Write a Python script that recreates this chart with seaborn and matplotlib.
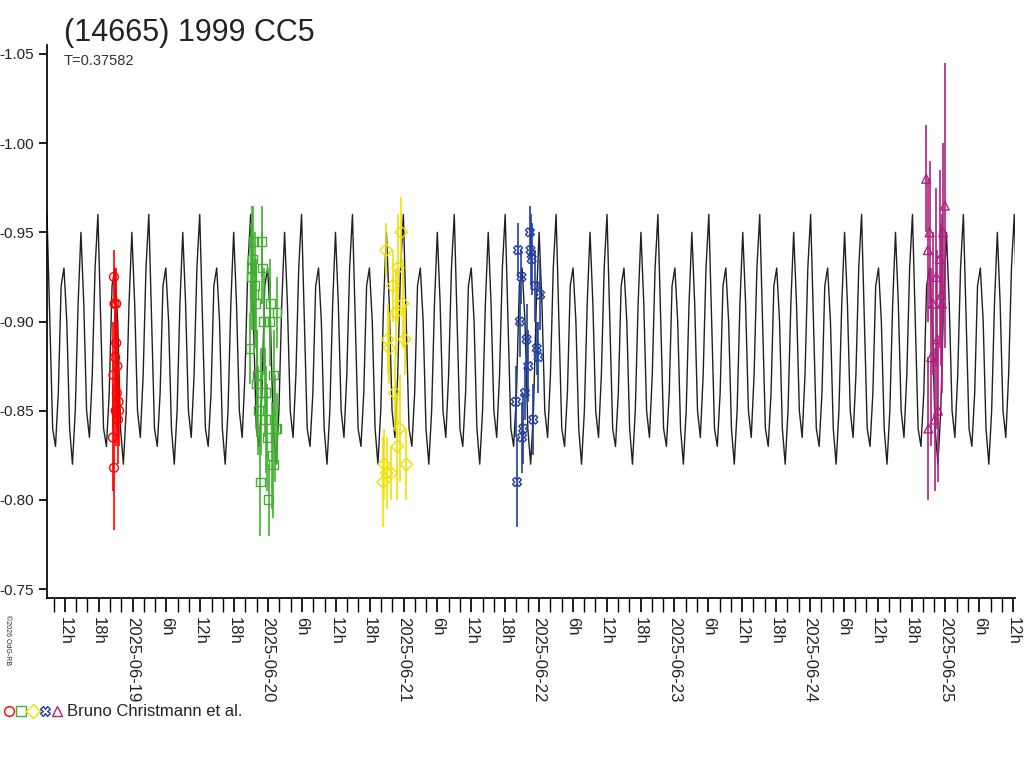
import numpy as np
import pandas as pd
import matplotlib
matplotlib.use("Agg")
import matplotlib.pyplot as plt
import matplotlib.dates as mdates
import seaborn as sns

PERIOD = 0.37582  # days
T0 = pd.Timestamp("2025-06-19 00:00")

# one period of the model light curve (magnitudes)
model_shape = [-0.96, -0.90, -0.84, -0.83, -0.86, -0.92, -0.93, -0.90,
               -0.84, -0.82, -0.85, -0.91, -0.95, -0.91, -0.85, -0.835,
               -0.87, -0.93, -0.96]

# observations: hours from 2025-06-19 00:00, magnitude, error
red_h = [-3.3, -3.2, -2.9, -2.7, -3.4, -3.1, -2.8, -2.5, -3.0, -2.6, -3.5, -3.3, -2.4, -2.9]
red_m = [-0.925, -0.91, -0.91, -0.875, -0.87, -0.88, -0.86, -0.855, -0.85, -0.845, -0.835, -0.818, -0.85, -0.888]
red_e = [0.015, 0.02, 0.02, 0.025, 0.03, 0.025, 0.02, 0.02, 0.02, 0.025, 0.03, 0.035, 0.02, 0.03]

green_h = [20.8, 21.0, 21.2, 21.4, 21.6, 21.8, 22.0, 22.3, 22.6, 22.9, 23.2, 23.5, 23.8, 24.1, 24.4,
           24.7, 25.0, 25.3, 25.6, 21.1, 21.5, 22.1, 22.7, 23.0, 23.6, 24.3, 24.9, 25.5]
green_m = [-0.885, -0.93, -0.935, -0.945, -0.92, -0.91, -0.865, -0.85, -0.81, -0.945, -0.90, -0.86,
           -0.835, -0.80, -0.91, -0.825, -0.87, -0.84, -0.905, -0.925, -0.915, -0.87, -0.855, -0.93,
           -0.845, -0.90, -0.82, -0.84]
green_e = [0.02, 0.025, 0.03, 0.02, 0.03, 0.025, 0.03, 0.025, 0.03, 0.02, 0.03, 0.025, 0.03, 0.02,
           0.025, 0.03, 0.025, 0.03, 0.02, 0.03, 0.02, 0.025, 0.03, 0.02, 0.03, 0.025, 0.03, 0.02]

yellow_h = [44.4, 44.6, 44.9, 45.2, 45.5, 45.8, 46.1, 46.4, 46.7, 47.0, 47.3, 47.6, 47.9, 48.2, 48.5, 45.0, 46.9]
yellow_m = [-0.81, -0.82, -0.94, -0.89, -0.885, -0.815, -0.92, -0.86, -0.905, -0.93, -0.84, -0.95, -0.91,
            -0.89, -0.82, -0.815, -0.83]
yellow_e = [0.025, 0.02, 0.015, 0.02, 0.02, 0.015, 0.02, 0.02, 0.025, 0.03, 0.03, 0.02, 0.025, 0.02, 0.02, 0.02, 0.03]

blue_h = [67.9, 68.1, 68.3, 68.6, 68.9, 69.2, 69.5, 69.8, 70.1, 70.4, 70.7, 71.0, 71.3, 71.6, 71.9, 72.2, 69.0, 70.5]
blue_m = [-0.855, -0.81, -0.94, -0.90, -0.925, -0.84, -0.86, -0.89, -0.875, -0.95, -0.935, -0.845,
          -0.92, -0.885, -0.88, -0.915, -0.835, -0.94]
blue_e = [0.02, 0.025, 0.015, 0.02, 0.015, 0.02, 0.015, 0.02, 0.02, 0.015, 0.02, 0.02, 0.02, 0.015, 0.02, 0.02, 0.02, 0.02]

mag_h = [140.6, 140.9, 141.2, 141.5, 141.8, 142.1, 142.4, 142.7, 143.0, 143.3, 143.6, 143.9, 141.0, 142.6, 143.4]
mag_m = [-0.98, -0.94, -0.95, -0.88, -0.91, -0.845, -0.925, -0.85, -0.935, -0.915, -0.95, -0.965, -0.84, -0.89, -0.91]
mag_e = [0.03, 0.04, 0.04, 0.05, 0.04, 0.04, 0.05, 0.04, 0.05, 0.04, 0.05, 0.08, 0.04, 0.05, 0.05]

series = [
    ("#ff0000", "o", red_h, red_m, red_e),
    ("#40b030", "s", green_h, green_m, green_e),
    ("#f0e000", "D", yellow_h, yellow_m, yellow_e),
    ("#2040a0", "X", blue_h, blue_m, blue_e),
    ("#b02080", "^", mag_h, mag_m, mag_e),
]

sns.set_theme(style="white")
plt.rcParams["font.family"] = ["Liberation Sans", "DejaVu Sans"]
plt.rcParams["text.color"] = "#222222"

fig = plt.figure(figsize=(10.24, 7.68), dpi=100)
ax = fig.add_axes([47 / 1024, 1 - 598 / 768, (1015 - 47) / 1024, (598 - 45) / 768])

# model curve: tile the single-period shape across the window
start = pd.Timestamp("2025-06-18 08:50")
end = pd.Timestamp("2025-06-25 12:20")
n_per = int((end - start).total_seconds() / 86400 / PERIOD) + 2
phase = np.linspace(0, 1, len(model_shape))
tt, mm = [], []
for k in range(n_per):
    for p, v in zip(phase[:-1], model_shape[:-1]):
        tt.append(start + pd.Timedelta(days=(k + p) * PERIOD))
        mm.append(v)
model = pd.DataFrame({"t": tt, "m": mm})
sns.lineplot(data=model, x="t", y="m", ax=ax, color="#202020", linewidth=1.0, estimator=None)

for color, marker, hrs, mags, errs in series:
    t = [T0 + pd.Timedelta(hours=h) for h in hrs]
    ax.errorbar(t, mags, yerr=errs, fmt="none", ecolor=color, elinewidth=1.2, zorder=3)
    sns.scatterplot(x=t, y=mags, ax=ax, marker=marker, s=40, facecolors="none",
                    edgecolor=color, linewidth=1.0, zorder=4)

ax.set_xlim(start, end)
ax.set_ylim(-0.745, -1.055)
ax.set_yticks([-0.75, -0.80, -0.85, -0.90, -0.95, -1.00, -1.05])
ax.set_yticklabels(["-0.75", "-0.80", "-0.85", "-0.90", "-0.95", "-1.00", "-1.05"], fontsize=11,
                   color="#222222")
ax.set_xlabel("")
ax.set_ylabel("")
for s in ["top", "right"]:
    ax.spines[s].set_visible(False)
for s in ["left", "bottom"]:
    ax.spines[s].set_color("black")

def fmt(x, pos=None):
    d = mdates.num2date(x)
    if d.hour == 0:
        return d.strftime("%Y-%m-%d")
    return f"{d.hour}h"

ax.xaxis.set_major_locator(mdates.HourLocator(byhour=[0, 6, 12, 18]))
ax.xaxis.set_major_formatter(plt.FuncFormatter(fmt))
ax.xaxis.set_minor_locator(mdates.HourLocator(byhour=[2, 4, 8, 10, 14, 16, 20, 22]))
ax.tick_params(axis="x", which="major", direction="out", length=10, labelsize=12,
               labelrotation=-90, bottom=True, color="black", labelcolor="#222222")
ax.tick_params(axis="x", which="minor", direction="out", length=10, bottom=True, color="black")
ax.tick_params(axis="y", direction="out", length=6, left=True, color="black")
for lbl in ax.get_xticklabels():
    lbl.set_verticalalignment("top")

fig.text(64 / 1024, 1 - 33 / 768, "(14665) 1999 CC5", fontsize=22, va="center")
fig.text(64 / 1024, 1 - 61 / 768, "T=0.37582", fontsize=10.5, va="center", color="#333333")
fig.text(4 / 1024, 1 - 640 / 768, "©2026 OdG-RB", fontsize=5, rotation=-90, va="center")
fig.text(67 / 1024, 1 - 711 / 768, "Bruno Christmann et al.", fontsize=12, va="center")
syms = [("o", "#ff0000"), ("s", "#40b030"), ("D", "#f0e000"), ("X", "#2040a0"), ("^", "#b02080")]
for i, (mk, c) in enumerate(syms):
    fig.lines.append(plt.Line2D([(9 + 12 * i) / 1024], [1 - 711 / 768], marker=mk, color=c,
                                markerfacecolor="none", markersize=7, transform=fig.transFigure))

fig.savefig("out.png", dpi=100, facecolor="white")
